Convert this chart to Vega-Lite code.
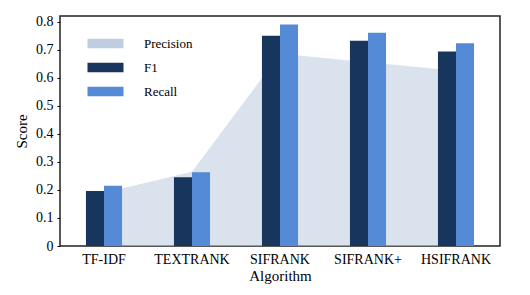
{
  "$schema": "https://vega.github.io/schema/vega-lite/v6.json",
  "width": 440,
  "height": 230,
  "autosize": {"type": "none"},
  "padding": {"left": 60, "top": 16, "right": 30, "bottom": 49},
  "background": "white",
  "config": {
    "font": "Liberation Serif",
    "view": {"stroke": "#222222", "strokeWidth": 1.5},
    "axis": {"grid": false, "domain": false, "labelColor": "black", "titleColor": "black", "labelFont": "Liberation Serif", "titleFont": "Liberation Serif", "labelFontSize": 14, "titleFontSize": 15, "titleFontWeight": "normal"},
    "legend": {"labelFont": "Liberation Serif", "labelFontSize": 13, "labelColor": "black"}
  },
  "datasets": {
    "scores": [
      {"algorithm": "TF-IDF", "series": "Precision", "score": 0.19},
      {"algorithm": "TEXTRANK", "series": "Precision", "score": 0.265},
      {"algorithm": "SIFRANK", "series": "Precision", "score": 0.685},
      {"algorithm": "SIFRANK+", "series": "Precision", "score": 0.655},
      {"algorithm": "HSIFRANK", "series": "Precision", "score": 0.625},
      {"algorithm": "TF-IDF", "series": "F1", "score": 0.196},
      {"algorithm": "TEXTRANK", "series": "F1", "score": 0.245},
      {"algorithm": "SIFRANK", "series": "F1", "score": 0.75},
      {"algorithm": "SIFRANK+", "series": "F1", "score": 0.732},
      {"algorithm": "HSIFRANK", "series": "F1", "score": 0.693},
      {"algorithm": "TF-IDF", "series": "Recall", "score": 0.215},
      {"algorithm": "TEXTRANK", "series": "Recall", "score": 0.263},
      {"algorithm": "SIFRANK", "series": "Recall", "score": 0.79},
      {"algorithm": "SIFRANK+", "series": "Recall", "score": 0.76},
      {"algorithm": "HSIFRANK", "series": "Recall", "score": 0.723}
    ]
  },
  "data": {"name": "scores"},
  "encoding": {
    "x": {
      "field": "algorithm", "type": "nominal",
      "sort": ["TF-IDF", "TEXTRANK", "SIFRANK", "SIFRANK+", "HSIFRANK"],
      "scale": {"paddingInner": 0.59, "paddingOuter": 0.295},
      "axis": {"title": "Algorithm", "labelAngle": 0, "ticks": false, "labelPadding": 6, "titlePadding": 2}
    },
    "y": {
      "field": "score", "type": "quantitative",
      "scale": {"domain": [0, 0.82], "nice": false},
      "axis": {"title": "Score", "values": [0, 0.1, 0.2, 0.3, 0.4, 0.5, 0.6, 0.7, 0.8], "format": "~g", "tickSize": 3, "tickColor": "black", "labelPadding": 4, "titlePadding": 6}
    },
    "color": {
      "field": "series", "type": "nominal",
      "scale": {"domain": ["Precision", "F1", "Recall"], "range": ["#bfcde0", "#18355e", "#558ad6"]},
      "legend": {
        "title": null, "orient": "none", "legendX": 39, "legendY": 21,
        "symbolType": "M-3,-0.8H3V0.8H-3Z", "symbolSize": 144, "symbolStrokeWidth": 0,
        "labelOffset": 32, "rowPadding": 10, "padding": 0,
        "encode": {"symbols": {"update": {"opacity": {"value": 1}}}}
      }
    }
  },
  "layer": [
    {
      "transform": [{"filter": "datum.series === 'Precision'"}],
      "mark": {"type": "area", "opacity": 0.58}
    },
    {
      "transform": [{"filter": "datum.series !== 'Precision'"}],
      "mark": {"type": "bar"},
      "encoding": {
        "xOffset": {"field": "series", "type": "nominal", "scale": {"domain": ["F1", "Recall"], "paddingInner": 0, "paddingOuter": 0}}
      }
    }
  ]
}
